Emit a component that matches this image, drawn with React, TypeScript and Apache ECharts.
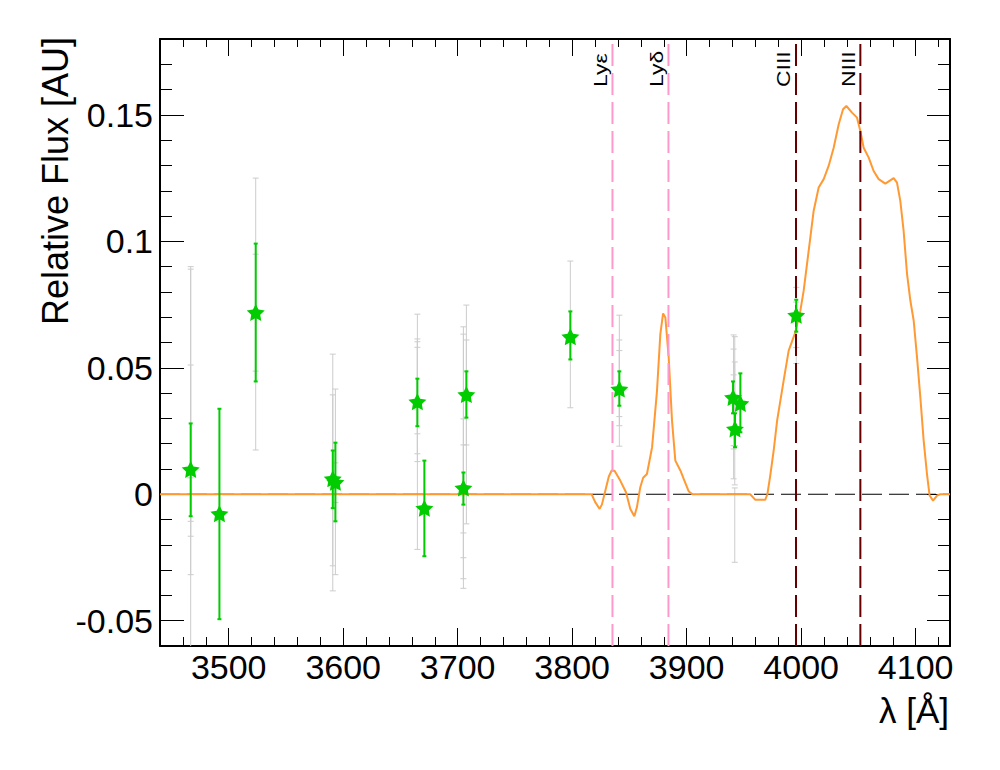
import React, { useEffect, useRef } from "react";
import * as echarts from "echarts";

const X_MIN = 3440;
const X_MAX = 4130;
const Y_MIN = -0.06;
const Y_MAX = 0.18;

// Measured points (green stars) with their error bars
const pointX = [3466.8, 3491.9, 3523.6, 3590.9, 3593.2, 3664.8, 3670.9, 3705.0, 3707.6, 3798.4, 3841.2, 3940.5, 3946.9, 3942.2, 3995.7];
const pointY = [0.0098, -0.0077, 0.0719, 0.0061, 0.0047, 0.0366, -0.0055, 0.0025, 0.0394, 0.0623, 0.0416, 0.0383, 0.0359, 0.0258, 0.0708];
const pointLo = [-0.0087, -0.0494, 0.0446, -0.0055, -0.0107, 0.0269, -0.0245, -0.0041, 0.0303, 0.0533, 0.035, 0.032, 0.0245, 0.0186, 0.0643];
const pointHi = [0.028, 0.0338, 0.0991, 0.0173, 0.0204, 0.0457, 0.0133, 0.0086, 0.0486, 0.0723, 0.0486, 0.0446, 0.0478, 0.032, 0.0769];

// Grey (wider) error bars
const grayX = [3466.8, 3466.8, 3466.8, 3466.8, 3523.6, 3523.6, 3590.9, 3590.9, 3593.2, 3593.2, 3664.8, 3664.8, 3664.8, 3664.8, 3705.0, 3705.0, 3705.0, 3705.0, 3707.6, 3707.6, 3798.4, 3841.2, 3841.2, 3841.2, 3941.0, 3941.0, 3941.0, 3942.0, 3942.0, 3942.0, 3995.7, 3995.7];
const grayLo = [-0.075, -0.0318, -0.0166, -0.0107, 0.0175, 0.0487, -0.0382, -0.0283, -0.0318, -0.0033, -0.0218, 0.0129, 0.016, 0.0239, -0.0372, -0.0334, -0.0251, -0.0153, -0.0117, 0.0195, 0.0342, 0.019, 0.0271, 0.0307, 0.0061, 0.0179, 0.0192, 0.0037, 0.0192, -0.0269, 0.0517, 0.058];
const grayHi = [0.09, 0.089, 0.0511, 0.0065, 0.125, 0.0949, 0.0554, 0.0393, 0.0416, 0.0124, 0.0712, 0.0614, 0.0581, 0.0603, 0.0662, 0.0633, 0.0298, 0.0195, 0.0748, 0.061, 0.0922, 0.0708, 0.061, 0.0568, 0.063, 0.0574, 0.0472, 0.0623, 0.0523, 0.0025, 0.0818, 0.076];

// Model curve (orange)
const curveX = [3440, 3817, 3820, 3824, 3826, 3829, 3832, 3834.5, 3837, 3842, 3847, 3850.8, 3854.3, 3856.6, 3859.5, 3862, 3865.3, 3869.8, 3874.1, 3877, 3879.4, 3881.4, 3884.3, 3887.2, 3890.1, 3894.5, 3898, 3901.7, 3905, 3955.5, 3960, 3968.6, 3970.5, 3973, 3976, 3979, 3984.7, 3989.1, 3994.9, 3999.3, 4002.2, 4005.1, 4008, 4010.9, 4015.3, 4019.7, 4024, 4028.4, 4032.8, 4036.6, 4039.5, 4044.4, 4048.8, 4051.7, 4054.6, 4059, 4063.3, 4067.7, 4073.5, 4080.8, 4083.7, 4086.6, 4089.5, 4092.5, 4095.4, 4098.3, 4101.2, 4104.1, 4107, 4109.9, 4112.2, 4115.2, 4118.7, 4121.6, 4130];
const curveY = [0, 0, -0.003, -0.0058, -0.004, 0.0015, 0.007, 0.0094, 0.0093, 0.0054, 0.0008, -0.0058, -0.0087, -0.005, 0.0028, 0.0065, 0.008, 0.0186, 0.041, 0.0633, 0.0715, 0.0699, 0.0541, 0.0291, 0.0133, 0.0094, 0.0054, 0.0012, 0, 0, -0.0022, -0.0022, 0, 0.0074, 0.0173, 0.0291, 0.0449, 0.0568, 0.064, 0.0726, 0.0805, 0.091, 0.1015, 0.112, 0.1213, 0.1246, 0.1298, 0.137, 0.1463, 0.1522, 0.1535, 0.1509, 0.1489, 0.1436, 0.137, 0.1331, 0.1278, 0.1246, 0.1228, 0.125, 0.1232, 0.116, 0.1041, 0.087, 0.0765, 0.0686, 0.0541, 0.0383, 0.0212, 0.008, -0.0005, -0.0025, -0.0005, 0, 0];

// Emission-line markers
const lineX = [3835.2, 3884.1, 3995.5, 4051.7];
const lineNames = ["Ly\u03b5", "Ly\u03b4", "CIII", "NIII"];
const lineColors = ["#ff99cc", "#ff99cc", "#660000", "#660000"];

const FONT = "'Liberation Sans', Arial, Helvetica, sans-serif";

function fmt(v: number, step: number): string {
  const r = v / step;
  if (Math.abs(r - Math.round(r)) > 1e-6) return "";
  return String(parseFloat(v.toFixed(4)));
}

function makeErrorRenderer(color: string, width: number, capHalf: number) {
  return (params: any, api: any) => {
    const x = api.value(0);
    const lo = api.value(1);
    const hi = api.value(2);
    const loC = Math.max(lo, Y_MIN);
    const hiC = Math.min(hi, Y_MAX);
    const p1 = api.coord([x, loC]);
    const p2 = api.coord([x, hiC]);
    const style = { stroke: color, lineWidth: width, fill: null };
    const children: any[] = [
      { type: "line", shape: { x1: p1[0], y1: p1[1], x2: p2[0], y2: p2[1] }, style },
    ];
    if (lo >= Y_MIN) {
      children.push({ type: "line", shape: { x1: p1[0] - capHalf, y1: p1[1], x2: p1[0] + capHalf, y2: p1[1] }, style });
    }
    if (hi <= Y_MAX) {
      children.push({ type: "line", shape: { x1: p2[0] - capHalf, y1: p2[1], x2: p2[0] + capHalf, y2: p2[1] }, style });
    }
    return { type: "group", children };
  };
}

const STAR =
  "path://M0,-10 L2.94,-4.05 L9.51,-3.09 L4.76,1.55 L5.88,8.09 L0,5 L-5.88,8.09 L-4.76,1.55 L-9.51,-3.09 L-2.94,-4.05 Z";

export default function App() {
  const ref = useRef<HTMLDivElement | null>(null);

  useEffect(() => {
    if (!ref.current) return;
    const chart = echarts.init(ref.current, null, { renderer: "svg" });

    const axisBase = (len: number, minorLen: number) => ({
      type: "value" as const,
      axisLine: { show: true, onZero: false, lineStyle: { color: "#000", width: 2 } },
      splitLine: { show: false },
      minorSplitLine: { show: false },
      axisTick: { show: true, inside: true, length: len, lineStyle: { color: "#000", width: 1 } },
      minorTick: { show: true, splitNumber: 5, length: minorLen, lineStyle: { color: "#000", width: 1 } },
    });

    const grayData = grayX.map((x, i) => [x, grayLo[i], grayHi[i]]);
    const greenData = pointX.map((x, i) => [x, pointLo[i], pointHi[i]]);
    const starData = pointX.map((x, i) => [x, pointY[i]]);
    const curveData = curveX.map((x, i) => [x, curveY[i]]);

    const lineSeries = lineX.map((x, i) => ({
      type: "line",
      data: [
        [x, Y_MIN],
        [x, Y_MAX],
      ],
      symbol: "none",
      silent: true,
      z: 5,
      lineStyle: { color: lineColors[i], width: 2, type: [22, 7] },
    }));

    chart.setOption({
      animation: false,
      backgroundColor: "#fff",
      grid: { left: 160, right: 50, top: 39, bottom: 124, containLabel: false, outerBoundsMode: "none" },
      xAxis: [
        {
          ...axisBase(18, 9),
          min: X_MIN,
          max: X_MAX,
          splitNumber: 7,
          position: "bottom",
          axisLabel: {
            show: true,
            color: "#000",
            fontSize: 34,
            fontFamily: FONT,
            margin: 4,
            formatter: (v: number) => fmt(v, 100),
          },
        },
        {
          ...axisBase(17, 8),
          min: X_MIN,
          max: X_MAX,
          splitNumber: 7,
          position: "top",
          axisLabel: { show: false },
        },
      ],
      yAxis: [
        {
          ...axisBase(24, 12),
          min: Y_MIN,
          max: Y_MAX,
          splitNumber: 5,
          position: "left",
          axisLabel: {
            show: true,
            color: "#000",
            fontSize: 34,
            fontFamily: FONT,
            margin: 7,
            formatter: (v: number) => fmt(v, 0.05),
          },
        },
        {
          ...axisBase(23, 12),
          min: Y_MIN,
          max: Y_MAX,
          splitNumber: 5,
          position: "right",
          axisLabel: { show: false },
        },
      ],
      series: [
        {
          type: "custom",
          data: grayData,
          encode: { x: 0, y: [1, 2] },
          renderItem: makeErrorRenderer("#cccccc", 1, 3),
          silent: true,
          z: 2,
        },
        {
          type: "line",
          data: [
            [X_MIN, 0],
            [X_MAX, 0],
          ],
          symbol: "none",
          silent: true,
          z: 3,
          lineStyle: { color: "#000", width: 1, type: [20, 7] },
        },
        {
          type: "line",
          data: curveData,
          symbol: "none",
          showSymbol: false,
          silent: true,
          z: 4,
          lineStyle: { color: "#ff9933", width: 2 },
        },
        ...lineSeries,
        {
          type: "custom",
          data: greenData,
          encode: { x: 0, y: [1, 2] },
          renderItem: makeErrorRenderer("#00cc00", 2, 2),
          silent: true,
          z: 6,
        },
        {
          type: "scatter",
          data: starData,
          symbol: STAR,
          symbolSize: [18, 17],
          silent: true,
          z: 7,
          itemStyle: { color: "#00cc00", opacity: 1 },
        },
      ],
    });

    const labelGraphics = lineX.map((x, i) => {
      const px = chart.convertToPixel({ xAxisIndex: 0 }, x) as number;
      return {
        type: "text",
        x: px - 3,
        y: 87,
        rotation: Math.PI / 2,
        scaleY: 0.8,
        silent: true,
        style: {
          text: lineNames[i],
          fontSize: 23,
          fontFamily: FONT,
          fill: "#000",
          align: "left",
          verticalAlign: "bottom",
        },
      };
    });

    chart.setOption({
      graphic: [
        ...labelGraphics,
        {
          type: "text",
          x: 949,
          y: 728,
          silent: true,
          style: {
            text: "\u03bb [\u00c5]",
            fontSize: 35,
            fontFamily: FONT,
            fill: "#000",
            align: "right",
            verticalAlign: "bottom",
          },
        },
        {
          type: "text",
          x: 55,
          y: 37,
          rotation: Math.PI / 2,
          silent: true,
          style: {
            text: "Relative Flux [AU]",
            fontSize: 36,
            fontFamily: FONT,
            fill: "#000",
            align: "right",
            verticalAlign: "middle",
          },
        },
      ],
    });

    return () => chart.dispose();
  }, []);

  return (
    <div
      ref={ref}
      style={{ position: "absolute", left: 0, top: 0, width: 1000, height: 770, background: "#fff" }}
    />
  );
}
